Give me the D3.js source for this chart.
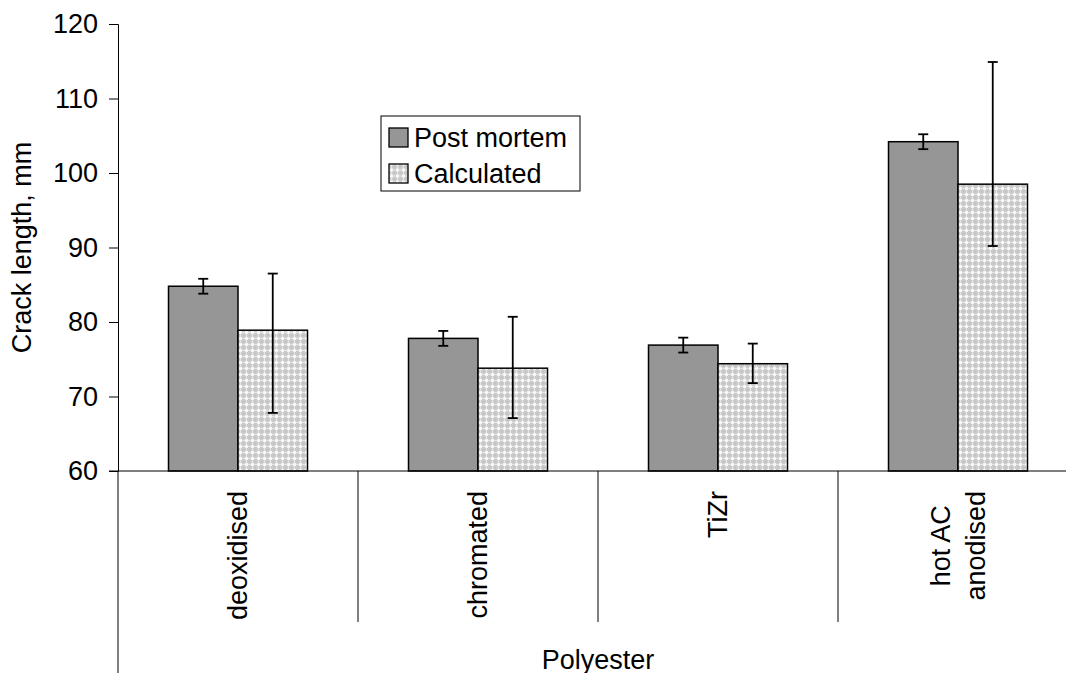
<!DOCTYPE html>
<html>
<head>
<meta charset="utf-8">
<script src="https://cdn.jsdelivr.net/npm/d3@7"></script>
<style>
  body { margin: 0; background: #fff; }
  text { font-family: "Liberation Sans", Arial, sans-serif; fill: #000; }
</style>
</head>
<body>
<div id="chart-area"></div>
<script>

// data
var categories = ["deoxidised", "chromated", "TiZr", "hot AC anodised"];
var categoryLines = [["deoxidised"], ["chromated"], ["TiZr"], ["hot AC", "anodised"]];
var series = ["Post mortem", "Calculated"];
var postMortem = [84.8, 77.8, 76.9, 104.2];
var postMortemErr = [1.0, 1.0, 1.0, 1.0];
var calculated = [78.9, 73.8, 74.4, 98.5];
var calculatedPlus = [7.6, 6.9, 2.7, 16.4];
var calculatedMinus = [11.1, 6.7, 2.6, 8.3];
var yTicks = [60, 70, 80, 90, 100, 110, 120];

var width = 1066, height = 673;
var plotLeft = 118, plotTop = 24, plotBottom = 471;

var svg = d3.select("#chart-area")
  .append("svg")
    .attr("width", width)
    .attr("height", height);

// hatch-like fill for the calculated bars
var defs = svg.append("defs");
var pat = defs.append("pattern")
    .attr("id", "confetti")
    .attr("patternUnits", "userSpaceOnUse")
    .attr("width", 6)
    .attr("height", 6);
pat.append("rect").attr("width", 6).attr("height", 6).attr("fill", "#cacaca");
pat.append("rect").attr("x", 0).attr("y", 2).attr("width", 6).attr("height", 1).attr("fill", "#e6e6e6");
pat.append("rect").attr("x", 2).attr("y", 0).attr("width", 1).attr("height", 6).attr("fill", "#e6e6e6");
pat.append("rect").attr("x", 1).attr("y", 1).attr("width", 3).attr("height", 3).attr("fill", "#f4f4f4");
pat.append("rect").attr("x", 2).attr("y", 2).attr("width", 1).attr("height", 1).attr("fill", "#ffffff");
pat.append("rect").attr("x", 5).attr("y", 5).attr("width", 1).attr("height", 1).attr("fill", "#bdbdbd");

var fills = { "Post mortem": "#969696", "Calculated": "url(#confetti)" };

var x0 = d3.scaleBand()
    .domain(categories)
    .range([plotLeft, plotLeft + 240 * categories.length]);

var x1 = d3.scaleBand()
    .domain(series)
    .range([50.5, 189.5]);

var y = d3.scaleLinear()
    .domain([60, 120])
    .range([plotBottom, plotTop]);

var rows = categories.map(function(c, i) {
  return {
    cat: c,
    lines: categoryLines[i],
    bars: [
      { s: "Post mortem", v: postMortem[i], hi: postMortemErr[i], lo: postMortemErr[i] },
      { s: "Calculated", v: calculated[i], hi: calculatedPlus[i], lo: calculatedMinus[i] }
    ]
  };
});

// y axis
var yAxis = svg.append("g")
    .attr("transform", "translate(" + plotLeft + ",0)")
    .call(d3.axisLeft(y).tickValues(yTicks).tickSize(9).tickPadding(11).tickFormat(d3.format("d")));
yAxis.select(".domain").attr("stroke", "#000").attr("stroke-width", 1);
yAxis.selectAll(".tick line").attr("stroke", "#000");
yAxis.selectAll(".tick text")
    .style("font-family", "'Liberation Sans', Arial, sans-serif")
    .style("font-size", "27px")
    .attr("fill", "#000");

// groups of bars
var groups = svg.selectAll(".grp")
  .data(rows)
  .enter()
  .append("g")
    .attr("class", "grp")
    .attr("transform", function(d) { return "translate(" + x0(d.cat) + ",0)"; });

groups.selectAll("rect")
  .data(function(d) { return d.bars; })
  .enter()
  .append("rect")
    .attr("x", function(d) { return x1(d.s); })
    .attr("y", function(d) { return y(d.v); })
    .attr("width", x1.bandwidth())
    .attr("height", function(d) { return y(60) - y(d.v); })
    .attr("fill", function(d) { return fills[d.s]; })
    .attr("stroke", "#000")
    .attr("stroke-width", 1.5);

// error bars
var err = groups.selectAll(".err")
  .data(function(d) { return d.bars; })
  .enter()
  .append("g")
    .attr("class", "err")
    .attr("stroke", "#000")
    .attr("stroke-width", 1.8);

err.append("line")
    .attr("x1", function(d) { return x1(d.s) + x1.bandwidth() / 2; })
    .attr("x2", function(d) { return x1(d.s) + x1.bandwidth() / 2; })
    .attr("y1", function(d) { return y(d.v + d.hi); })
    .attr("y2", function(d) { return y(d.v - d.lo); });
err.append("line")
    .attr("x1", function(d) { return x1(d.s) + x1.bandwidth() / 2 - 5; })
    .attr("x2", function(d) { return x1(d.s) + x1.bandwidth() / 2 + 5; })
    .attr("y1", function(d) { return y(d.v + d.hi); })
    .attr("y2", function(d) { return y(d.v + d.hi); });
err.append("line")
    .attr("x1", function(d) { return x1(d.s) + x1.bandwidth() / 2 - 5; })
    .attr("x2", function(d) { return x1(d.s) + x1.bandwidth() / 2 + 5; })
    .attr("y1", function(d) { return y(d.v - d.lo); })
    .attr("y2", function(d) { return y(d.v - d.lo); });

// category axis
svg.append("line")
    .attr("x1", plotLeft - 9).attr("x2", width)
    .attr("y1", plotBottom).attr("y2", plotBottom)
    .attr("stroke", "#000");
svg.append("line")
    .attr("x1", plotLeft).attr("x2", plotLeft)
    .attr("y1", plotBottom).attr("y2", height)
    .attr("stroke", "#000");
svg.selectAll(".sep")
  .data(categories.slice(1))
  .enter()
  .append("line")
    .attr("class", "sep")
    .attr("x1", function(d) { return x0(d); })
    .attr("x2", function(d) { return x0(d); })
    .attr("y1", plotBottom)
    .attr("y2", 622)
    .attr("stroke", "#000");

// rotated category labels, block aligned to the top, lines centred
groups.each(function(d) {
  var g = d3.select(this);
  var n = d.lines.length;
  var cx = x0.bandwidth() / 2;
  var texts = g.selectAll(".lab")
    .data(d.lines)
    .enter()
    .append("text")
      .attr("class", "lab")
      .style("font-size", "27px")
      .attr("text-anchor", "middle")
      .attr("dominant-baseline", "central")
      .text(function(t) { return t; });
  var maxLen = 0;
  texts.each(function() { maxLen = Math.max(maxLen, this.getComputedTextLength()); });
  var cy = 491 + maxLen / 2;
  texts.attr("transform", function(t, i) {
    var lx = cx + (i - (n - 1) / 2) * 35;
    return "translate(" + lx + "," + cy + ") rotate(-90)";
  });
});

// axis titles
svg.append("text")
    .attr("transform", "translate(22," + ((plotTop + plotBottom) / 2) + ") rotate(-90)")
    .attr("text-anchor", "middle")
    .attr("dominant-baseline", "central")
    .style("font-size", "27px")
    .text("Crack length, mm");

svg.append("text")
    .attr("x", x0.range()[0] + (x0.range()[1] - x0.range()[0]) / 2)
    .attr("y", 660)
    .attr("text-anchor", "middle")
    .attr("dominant-baseline", "central")
    .style("font-size", "27px")
    .text("Polyester");

// legend
var legend = svg.append("g").attr("transform", "translate(381,116)");
legend.append("rect")
    .attr("width", 199).attr("height", 75)
    .attr("fill", "#fff").attr("stroke", "#000").attr("stroke-width", 1);
var items = legend.selectAll(".item")
  .data(series)
  .enter()
  .append("g")
    .attr("transform", function(d, i) { return "translate(8," + (21.5 + i * 36) + ")"; });
items.append("rect")
    .attr("x", 0).attr("y", -9.5)
    .attr("width", 19).attr("height", 19)
    .attr("fill", function(d) { return fills[d]; })
    .attr("stroke", "#000").attr("stroke-width", 1.3);
items.append("text")
    .attr("x", 25)
    .attr("dominant-baseline", "central")
    .style("font-size", "27px")
    .text(function(d) { return d; });

</script>
</body>
</html>
